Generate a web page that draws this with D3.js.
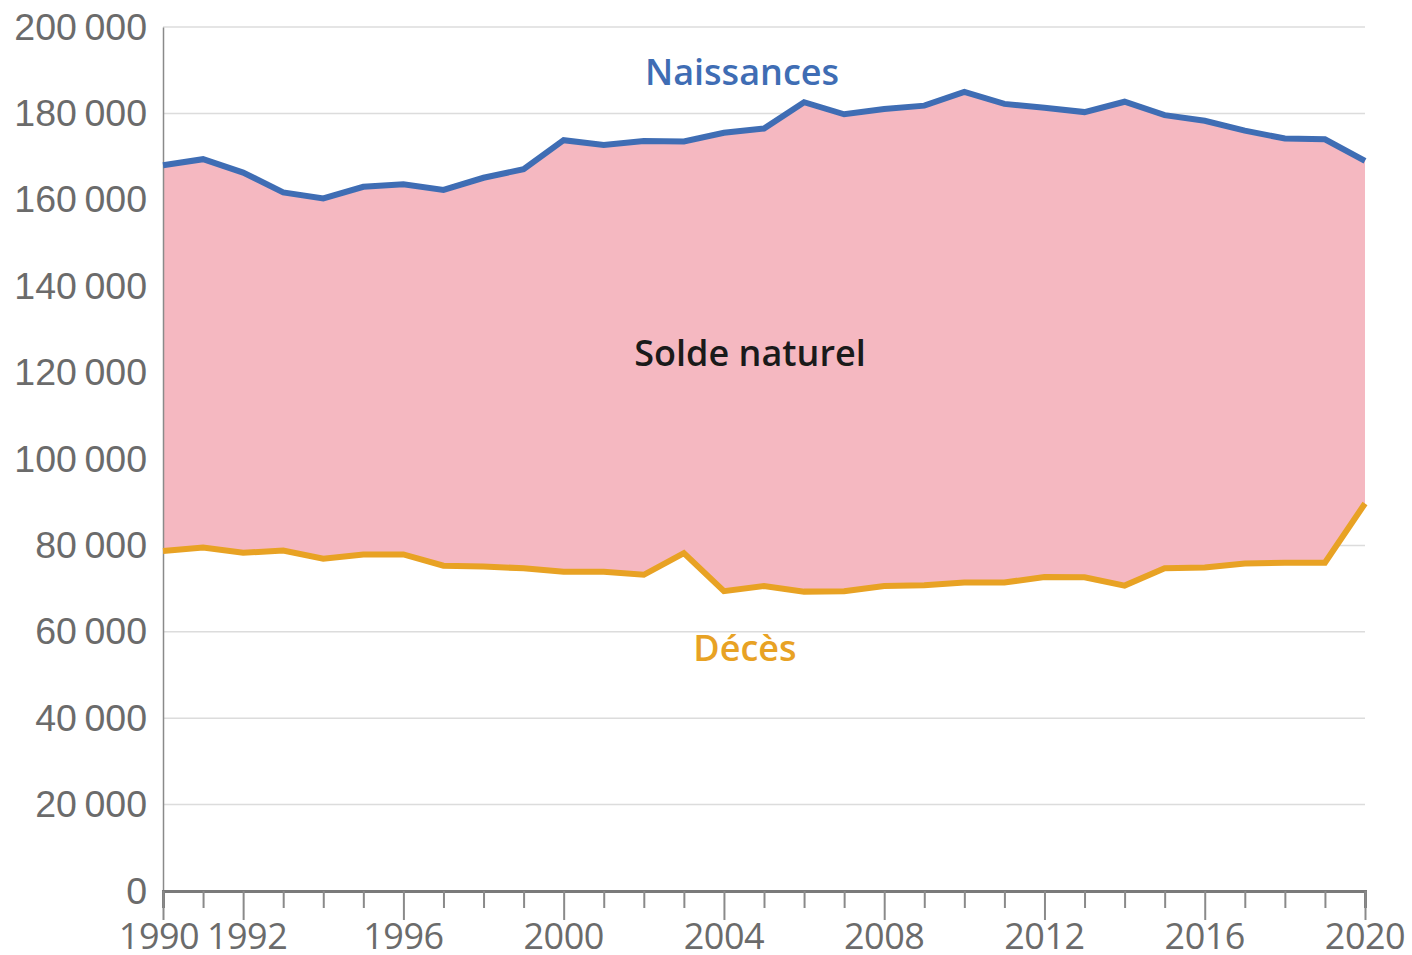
<!DOCTYPE html>
<html>
<head>
<meta charset="utf-8">
<script src="https://cdn.jsdelivr.net/npm/d3@7"></script>
<style>
  body { margin: 0; background: #fff; }
  svg { font-family: "Open Sans", "Noto Sans", sans-serif; }
</style>
</head>
<body>
<div id="chart"></div>
<script>
const years = d3.range(1990, 2021);
const naissances = [168000, 169400, 166300, 161700, 160300, 163000, 163600, 162300, 165100, 167100,
                    173800, 172700, 173600, 173500, 175500, 176500, 182600, 179800, 181000, 181800,
                    185000, 182200, 181300, 180300, 182700, 179600, 178300, 176000, 174200, 174000, 169000];
const deces = [78700, 79500, 78300, 78800, 76900, 77900, 77900, 75300, 75100, 74700,
               73900, 73900, 73200, 78200, 69400, 70600, 69300, 69400, 70600, 70800,
               71400, 71400, 72700, 72600, 70700, 74700, 74900, 75800, 76000, 76000, 89700];
const yTicks = [0, 20000, 40000, 60000, 80000, 100000, 120000, 140000, 160000, 180000, 200000];
const xLabels = [1990, 1992, 1996, 2000, 2004, 2008, 2012, 2016, 2020];

const width = 1412, height = 955;
const margin = {left: 163, right: 47, top: 27, bottom: 64};

const svg = d3.select('#chart').append('svg')
    .attr('width', width)
    .attr('height', height);

const x = d3.scaleLinear().domain([1990, 2020]).range([margin.left, width - margin.right]);
const y = d3.scaleLinear().domain([0, 200000]).range([height - margin.bottom, margin.top]);

const fmt = v => d3.format(',')(v).replace(/,/g, '\u202f');

// gridlines
svg.append('g')
    .selectAll('line')
    .data(yTicks.filter(d => d > 0))
    .join('line')
        .attr('x1', x(1990)).attr('x2', x(2020))
        .attr('y1', d => y(d)).attr('y2', d => y(d))
        .attr('stroke', '#dcdcdc')
        .attr('stroke-width', 1.5);

const data = years.map((yr, i) => ({year: yr, n: naissances[i], d: deces[i]}));

// solde naturel area
svg.append('path')
    .datum(data)
    .attr('fill', '#f5b8c1')
    .attr('d', d3.area().x(d => x(d.year)).y0(d => y(d.d)).y1(d => y(d.n)));

// y axis
const yAxis = svg.append('g')
    .attr('transform', `translate(${x(1990)},0)`)
    .call(d3.axisLeft(y).tickValues(yTicks).tickSize(0).tickPadding(16).tickFormat(fmt));
yAxis.select('.domain').attr('stroke', '#8a8a8a').attr('stroke-width', 1.5);
yAxis.selectAll('text')
    .attr('fill', '#6b6b6b')
    .style('font-size', '37.5px');

// x axis: minor ticks every year, long ticks on labeled years
const xAxis = svg.append('g')
    .attr('transform', `translate(0,${y(0)})`)
    .call(d3.axisBottom(x).tickValues(years).tickSize(17).tickFormat(''));
xAxis.select('.domain').attr('stroke', '#7a7a7a').attr('stroke-width', 3);
xAxis.selectAll('.tick line').attr('stroke', '#8a8a8a').attr('stroke-width', 2)
    .attr('y2', d => xLabels.includes(d) ? 29 : 17);

svg.append('g')
    .selectAll('text')
    .data(xLabels)
    .join('text')
        .attr('x', d => x(d) + (d === 1990 ? -4 : d === 1992 ? 4 : 0))
        .attr('y', y(0) + 58)
        .attr('text-anchor', 'middle')
        .attr('fill', '#6b6b6b')
        .style('font-size', '36px')
        .style('letter-spacing', '-0.5px')
        .text(d => d);

// lines
svg.append('path')
    .datum(data)
    .attr('fill', 'none')
    .attr('stroke', '#e8a224')
    .attr('stroke-width', 6)
    .attr('d', d3.line().x(d => x(d.year)).y(d => y(d.d)));

svg.append('path')
    .datum(data)
    .attr('fill', 'none')
    .attr('stroke', '#3f6db4')
    .attr('stroke-width', 6)
    .attr('d', d3.line().x(d => x(d.year)).y(d => y(d.n)));

// labels
svg.append('text')
    .attr('x', 742).attr('y', 85)
    .attr('text-anchor', 'middle')
    .attr('fill', '#3f6db4')
    .style('font-size', '36px')
    .style('font-weight', 600)
    .text('Naissances');

svg.append('text')
    .attr('x', 750).attr('y', 366)
    .attr('text-anchor', 'middle')
    .attr('fill', '#1a1a1a')
    .style('font-size', '36px')
    .style('font-weight', 600)
    .text('Solde naturel');

svg.append('text')
    .attr('x', 745).attr('y', 661)
    .attr('text-anchor', 'middle')
    .attr('fill', '#e8a224')
    .style('font-size', '36px')
    .style('font-weight', 600)
    .text('Décès');
</script>
</body>
</html>
